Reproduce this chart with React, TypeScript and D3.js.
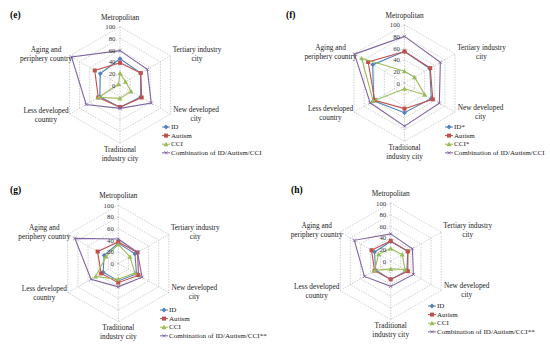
import React from 'react';
import * as d3 from 'd3';

// axis order: clockwise from the top
const axisLabels = [
    ['Metropolitan'],
    ['Tertiary industry', 'city'],
    ['New developed', 'city'],
    ['Traditional', 'industry city'],
    ['Less developed', 'country'],
    ['Aging and', 'periphery country'],
];
const ringTicks = [0, 20, 40, 60, 80, 100];

// (e)
const idE = [45, 41, 41, 38, 40, 39];
const autismE = [38, 41, 43, 38, 43, 50];
const cciE = [20, 11, 22, 23, 42, 3];
const comboE = [59, 54, 62, 40, 67, 96];
// (f)
const idF = [54, 50, 53, 51, 61, 63];
const autismF = [54, 51, 56, 44, 59, 72];
const cciF = [20, 20, 40, 10, 62, 85];
const comboF = [80, 71, 69, 74, 68, 99];
// (g)
const idG = [35, 33, 36, 30, 30, 28];
const autismG = [37, 38, 40, 33, 34, 41];
const cciG = [33, 23, 33, 27, 45, 24];
const comboG = [42, 38, 47, 40, 54, 86];
// (h)
const idH = [34, 34, 32, 31, 30, 32];
const autismH = [35, 34, 34, 31, 32, 38];
const cciH = [22, 23, 28, 13, 32, 24];
const comboH = [47, 43, 45, 43, 52, 72];

const legendE = ['ID', 'Autism', 'CCI', 'Combination of ID/Autism/CCI'];
const legendF = ['ID*', 'Autism', 'CCI*', 'Combination of ID/Autism/CCI'];
const legendG = ['ID', 'Autism', 'CCI', 'Combination of ID/Autism/CCI**'];
const legendH = ['ID', 'Autism', 'CCI', 'Combination of ID/Autism/CCI**'];

const colors = ['#4F81BD', '#C0504D', '#9BBB59', '#8064A2'];
const markers = ['diamond', 'square', 'triangle', 'x'];
const font = '"Liberation Serif", "Times New Roman", serif';

const R = 58.3;
const r = d3.scaleLinear().domain([0, 100]).range([0, R]);
const angle = d3.scaleLinear().domain([0, 6]).range([0, 2 * Math.PI]);

const labelPos = [
    [0, -68],
    [77, -36],
    [76, 24],
    [0, 64],
    [-74, 25],
    [-74, -36],
];

const Marker: React.FC<{ kind: string; x: number; y: number; color: string }> = ({ kind, x, y, color }) => {
    if (kind === 'diamond') {
        const s = 2.4;
        return <path d={`M${x},${y - s}L${x + s},${y}L${x},${y + s}L${x - s},${y}Z`} fill={color} />;
    }
    if (kind === 'square') {
        const s = 2;
        return <rect x={x - s} y={y - s} width={2 * s} height={2 * s} fill={color} />;
    }
    if (kind === 'triangle') {
        const s = 2.5;
        return <path d={`M${x},${y - s}L${x + s},${y + s * 0.8}L${x - s},${y + s * 0.8}Z`} fill={color} />;
    }
    const s = 1.6;
    return <path d={`M${x - s},${y - s}L${x + s},${y + s}M${x - s},${y + s}L${x + s},${y - s}`} stroke={color} strokeWidth={0.8} />;
};

const point = (i: number, v: number) => {
    const a = angle(i);
    return [r(v) * Math.sin(a), -r(v) * Math.cos(a)];
};

interface RadarProps {
    tag: string;
    cx: number;
    cy: number;
    tagX: number;
    tagY: number;
    series: number[][];
    names: string[];
    legX: number;
    legY: number;
}

const Radar: React.FC<RadarProps> = ({ tag, cx, cy, tagX, tagY, series, names, legX, legY }) => {
    const ring = d3.lineRadial<number>()
        .angle((_, i) => angle(i))
        .radius(d => r(d))
        .curve(d3.curveLinearClosed);
    const line = d3.lineRadial<number>()
        .angle((_, i) => angle(i))
        .radius(d => r(d))
        .curve(d3.curveLinearClosed);

    return (
        <g>
            <text x={tagX} y={tagY} fontFamily={font} fontWeight="bold" fontSize={9.5}>{tag}</text>
            <g transform={`translate(${cx},${cy})`}>
                {ringTicks.slice(1).map(t => (
                    <path key={t} d={ring(d3.range(6).map(() => t)) || ''} fill="none"
                        stroke="#b0b0b0" strokeWidth={0.6} strokeDasharray="1.5,1.2" />
                ))}
                {d3.range(6).map(i => {
                    const [x, y] = point(i, 100);
                    return <line key={i} x1={0} y1={0} x2={x} y2={y} stroke="#b0b0b0" strokeWidth={0.6} strokeDasharray="1.5,1.2" />;
                })}
                {series.map((s, k) => (
                    <g key={k}>
                        <path d={line(s) || ''} fill="none" stroke={colors[k]} strokeWidth={1.1} />
                        {s.map((v, i) => {
                            const [x, y] = point(i, v);
                            return <Marker key={i} kind={markers[k]} x={x} y={y} color={colors[k]} />;
                        })}
                    </g>
                ))}
                {ringTicks.map(t => (
                    <text key={t} x={-4.5} y={-r(t)} textAnchor="end" dominantBaseline="central"
                        fontFamily={font} fontSize={6.8} fill="#333">{t}</text>
                ))}
                {axisLabels.map((lines, i) => (
                    <text key={i} textAnchor="middle" fontFamily={font} fontSize={7.3} fill="#222">
                        {lines.map((ln, j) => (
                            <tspan key={j} x={labelPos[i][0]} y={labelPos[i][1] + j * 9} dominantBaseline="central">{ln}</tspan>
                        ))}
                    </text>
                ))}
            </g>
            <g transform={`translate(${legX},${legY})`}>
                {names.map((n, k) => (
                    <g key={k} transform={`translate(0,${k * 8.6})`}>
                        <line x1={0} x2={8} y1={0} y2={0} stroke={colors[k]} strokeWidth={1} />
                        <Marker kind={markers[k]} x={4} y={0} color={colors[k]} />
                        <text x={9} y={0} dominantBaseline="central" fontFamily={font} fontSize={7.1} fill="#222">{n}</text>
                    </g>
                ))}
            </g>
        </g>
    );
};

const App: React.FC = () => (
    <svg width={550} height={349} style={{ position: 'absolute', left: 0, top: 0, background: '#fff' }}>
        <Radar tag="(e)" cx={120} cy={85} tagX={10} tagY={18} series={[idE, autismE, cciE, comboE]}
            names={legendE} legX={162} legY={127} />
        <Radar tag="(f)" cx={404.5} cy={83} tagX={286} tagY={18} series={[idF, autismF, cciF, comboF]}
            names={legendF} legX={445} legY={127} />
        <Radar tag="(g)" cx={118.3} cy={263.5} tagX={10} tagY={193} series={[idG, autismG, cciG, comboG]}
            names={legendG} legX={160} legY={310} />
        <Radar tag="(h)" cx={390.7} cy={261.3} tagX={291} tagY={193} series={[idH, autismH, cciH, comboH]}
            names={legendH} legX={428} legY={306} />
    </svg>
);

export default App;
